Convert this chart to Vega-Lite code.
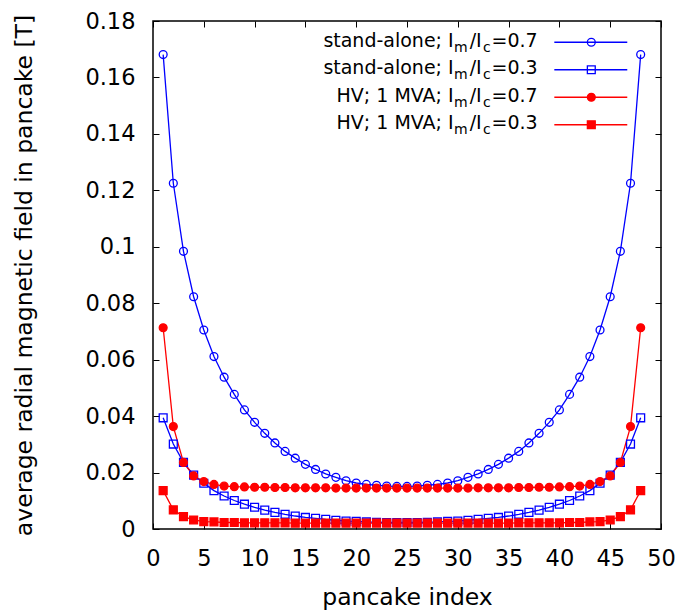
{
  "$schema": "https://vega.github.io/schema/vega-lite/v6.json",
  "width": 508,
  "height": 508,
  "autosize": {"type": "none"},
  "padding": {"left": 153, "top": 21, "right": 23, "bottom": 87},
  "background": "white",
  "config": {
    "font": "DejaVu Sans",
    "view": {"stroke": "black", "strokeWidth": 1.5},
    "axis": {
      "labelFont": "DejaVu Sans", "labelFontSize": 22.5, "labelColor": "black",
      "titleFont": "DejaVu Sans", "titleFontSize": 23.5, "titleFontWeight": "normal", "titleColor": "black",
      "tickColor": "black", "tickSize": -6, "tickWidth": 1, "domain": false, "grid": false,
      "labelFlush": false, "labelOverlap": false
    }
  },
  "datasets": {
    "curves": [
      {"i":1,"s":"A","v":0.1681},{"i":2,"s":"A","v":0.1225},{"i":3,"s":"A","v":0.0984},{"i":4,"s":"A","v":0.0823},{"i":5,"s":"A","v":0.0705},{"i":6,"s":"A","v":0.0611},{"i":7,"s":"A","v":0.0538},{"i":8,"s":"A","v":0.0477},{"i":9,"s":"A","v":0.0422},{"i":10,"s":"A","v":0.0378},{"i":11,"s":"A","v":0.0339},{"i":12,"s":"A","v":0.0305},{"i":13,"s":"A","v":0.0275},{"i":14,"s":"A","v":0.0251},{"i":15,"s":"A","v":0.0229},{"i":16,"s":"A","v":0.0211},{"i":17,"s":"A","v":0.0195},{"i":18,"s":"A","v":0.0183},{"i":19,"s":"A","v":0.0171},{"i":20,"s":"A","v":0.0163},{"i":21,"s":"A","v":0.0158},{"i":22,"s":"A","v":0.0155},{"i":23,"s":"A","v":0.0152},{"i":24,"s":"A","v":0.0151},
      {"i":25,"s":"A","v":0.0151},{"i":26,"s":"A","v":0.0152},{"i":27,"s":"A","v":0.0155},{"i":28,"s":"A","v":0.0158},{"i":29,"s":"A","v":0.0163},{"i":30,"s":"A","v":0.0171},{"i":31,"s":"A","v":0.0183},{"i":32,"s":"A","v":0.0195},{"i":33,"s":"A","v":0.0211},{"i":34,"s":"A","v":0.0229},{"i":35,"s":"A","v":0.0251},{"i":36,"s":"A","v":0.0275},{"i":37,"s":"A","v":0.0305},{"i":38,"s":"A","v":0.0339},{"i":39,"s":"A","v":0.0378},{"i":40,"s":"A","v":0.0422},{"i":41,"s":"A","v":0.0477},{"i":42,"s":"A","v":0.0538},{"i":43,"s":"A","v":0.0611},{"i":44,"s":"A","v":0.0705},{"i":45,"s":"A","v":0.0823},{"i":46,"s":"A","v":0.0984},{"i":47,"s":"A","v":0.1225},{"i":48,"s":"A","v":0.1681},
      {"i":1,"s":"B","v":0.0394},{"i":2,"s":"B","v":0.0301},{"i":3,"s":"B","v":0.0236},{"i":4,"s":"B","v":0.0191},{"i":5,"s":"B","v":0.0162},{"i":6,"s":"B","v":0.0136},{"i":7,"s":"B","v":0.0117},{"i":8,"s":"B","v":0.0101},{"i":9,"s":"B","v":0.0088},{"i":10,"s":"B","v":0.0077},{"i":11,"s":"B","v":0.0067},{"i":12,"s":"B","v":0.0059},{"i":13,"s":"B","v":0.0052},{"i":14,"s":"B","v":0.0046},{"i":15,"s":"B","v":0.0041},{"i":16,"s":"B","v":0.0038},{"i":17,"s":"B","v":0.0034},{"i":18,"s":"B","v":0.0031},{"i":19,"s":"B","v":0.0028},{"i":20,"s":"B","v":0.0027},{"i":21,"s":"B","v":0.0025},{"i":22,"s":"B","v":0.0024},{"i":23,"s":"B","v":0.0023},{"i":24,"s":"B","v":0.0023},
      {"i":25,"s":"B","v":0.0023},{"i":26,"s":"B","v":0.0023},{"i":27,"s":"B","v":0.0024},{"i":28,"s":"B","v":0.0025},{"i":29,"s":"B","v":0.0027},{"i":30,"s":"B","v":0.0028},{"i":31,"s":"B","v":0.0031},{"i":32,"s":"B","v":0.0034},{"i":33,"s":"B","v":0.0038},{"i":34,"s":"B","v":0.0041},{"i":35,"s":"B","v":0.0046},{"i":36,"s":"B","v":0.0052},{"i":37,"s":"B","v":0.0059},{"i":38,"s":"B","v":0.0067},{"i":39,"s":"B","v":0.0077},{"i":40,"s":"B","v":0.0088},{"i":41,"s":"B","v":0.0101},{"i":42,"s":"B","v":0.0117},{"i":43,"s":"B","v":0.0136},{"i":44,"s":"B","v":0.0162},{"i":45,"s":"B","v":0.0191},{"i":46,"s":"B","v":0.0236},{"i":47,"s":"B","v":0.0301},{"i":48,"s":"B","v":0.0394},
      {"i":1,"s":"C","v":0.0713},{"i":2,"s":"C","v":0.0363},{"i":3,"s":"C","v":0.0236},{"i":4,"s":"C","v":0.0188},{"i":5,"s":"C","v":0.0168},{"i":6,"s":"C","v":0.0158},{"i":7,"s":"C","v":0.0152},{"i":8,"s":"C","v":0.0150},{"i":9,"s":"C","v":0.0149},{"i":10,"s":"C","v":0.0148},{"i":11,"s":"C","v":0.0148},{"i":12,"s":"C","v":0.0147},{"i":13,"s":"C","v":0.0147},{"i":14,"s":"C","v":0.0146},{"i":15,"s":"C","v":0.0146},{"i":16,"s":"C","v":0.0146},{"i":17,"s":"C","v":0.0146},{"i":18,"s":"C","v":0.0145},{"i":19,"s":"C","v":0.0145},{"i":20,"s":"C","v":0.0145},{"i":21,"s":"C","v":0.0145},{"i":22,"s":"C","v":0.0145},{"i":23,"s":"C","v":0.0145},{"i":24,"s":"C","v":0.0145},
      {"i":25,"s":"C","v":0.0145},{"i":26,"s":"C","v":0.0145},{"i":27,"s":"C","v":0.0145},{"i":28,"s":"C","v":0.0145},{"i":29,"s":"C","v":0.0145},{"i":30,"s":"C","v":0.0145},{"i":31,"s":"C","v":0.0145},{"i":32,"s":"C","v":0.0146},{"i":33,"s":"C","v":0.0146},{"i":34,"s":"C","v":0.0146},{"i":35,"s":"C","v":0.0146},{"i":36,"s":"C","v":0.0147},{"i":37,"s":"C","v":0.0147},{"i":38,"s":"C","v":0.0148},{"i":39,"s":"C","v":0.0148},{"i":40,"s":"C","v":0.0149},{"i":41,"s":"C","v":0.0150},{"i":42,"s":"C","v":0.0152},{"i":43,"s":"C","v":0.0158},{"i":44,"s":"C","v":0.0168},{"i":45,"s":"C","v":0.0188},{"i":46,"s":"C","v":0.0236},{"i":47,"s":"C","v":0.0363},{"i":48,"s":"C","v":0.0713},
      {"i":1,"s":"D","v":0.0136},{"i":2,"s":"D","v":0.0068},{"i":3,"s":"D","v":0.0044},{"i":4,"s":"D","v":0.0032},{"i":5,"s":"D","v":0.0026},{"i":6,"s":"D","v":0.0025},{"i":7,"s":"D","v":0.0023},{"i":8,"s":"D","v":0.0023},{"i":9,"s":"D","v":0.0022},{"i":10,"s":"D","v":0.0022},{"i":11,"s":"D","v":0.0022},{"i":12,"s":"D","v":0.0022},{"i":13,"s":"D","v":0.0022},{"i":14,"s":"D","v":0.0021},{"i":15,"s":"D","v":0.0021},{"i":16,"s":"D","v":0.0021},{"i":17,"s":"D","v":0.0021},{"i":18,"s":"D","v":0.0021},{"i":19,"s":"D","v":0.0021},{"i":20,"s":"D","v":0.0021},{"i":21,"s":"D","v":0.0021},{"i":22,"s":"D","v":0.0021},{"i":23,"s":"D","v":0.0021},{"i":24,"s":"D","v":0.0021},
      {"i":25,"s":"D","v":0.0021},{"i":26,"s":"D","v":0.0021},{"i":27,"s":"D","v":0.0021},{"i":28,"s":"D","v":0.0021},{"i":29,"s":"D","v":0.0021},{"i":30,"s":"D","v":0.0021},{"i":31,"s":"D","v":0.0021},{"i":32,"s":"D","v":0.0021},{"i":33,"s":"D","v":0.0021},{"i":34,"s":"D","v":0.0021},{"i":35,"s":"D","v":0.0021},{"i":36,"s":"D","v":0.0022},{"i":37,"s":"D","v":0.0022},{"i":38,"s":"D","v":0.0022},{"i":39,"s":"D","v":0.0022},{"i":40,"s":"D","v":0.0022},{"i":41,"s":"D","v":0.0023},{"i":42,"s":"D","v":0.0023},{"i":43,"s":"D","v":0.0025},{"i":44,"s":"D","v":0.0026},{"i":45,"s":"D","v":0.0032},{"i":46,"s":"D","v":0.0044},{"i":47,"s":"D","v":0.0068},{"i":48,"s":"D","v":0.0136}
    ],
    "legend": [
      {"s":"A","pre":"stand-alone; I","val":"=0.7"},
      {"s":"B","pre":"stand-alone; I","val":"=0.3"},
      {"s":"C","pre":"HV; 1 MVA; I","val":"=0.7"},
      {"s":"D","pre":"HV; 1 MVA; I","val":"=0.3"}
    ]
  },
  "layer": [
    {
      "data": {"name": "curves"},
      "layer": [
        {
          "mark": {"type": "line", "strokeWidth": 1.3},
          "encoding": {
            "x": {"field": "i", "type": "quantitative", "scale": {"domain": [0, 50], "nice": false},
                  "axis": {"orient": "bottom", "values": [0,5,10,15,20,25,30,35,40,45,50], "format": "d", "labelPadding": 24, "title": "pancake index", "titlePadding": 16}},
            "y": {"field": "v", "type": "quantitative", "scale": {"domain": [0, 0.18], "nice": false},
                  "axis": {"orient": "left", "values": [0,0.02,0.04,0.06,0.08,0.1,0.12,0.14,0.16,0.18], "format": "~g", "labelPadding": 24, "title": "average radial magnetic field in pancake [T]", "titlePadding": 48}},
            "stroke": {"field": "s", "type": "nominal", "scale": {"domain": ["A","B","C","D"], "range": ["#0000ff","#0000ff","#ff0000","#ff0000"]}, "legend": null}
          }
        },
        {
          "mark": {"type": "point", "filled": true, "size": 62, "strokeWidth": 1.3, "opacity": 1},
          "encoding": {
            "x": {"field": "i", "type": "quantitative", "axis": {"orient": "top", "values": [0,5,10,15,20,25,30,35,40,45,50], "labels": false, "title": null}},
            "y": {"field": "v", "type": "quantitative", "axis": {"orient": "right", "values": [0,0.02,0.04,0.06,0.08,0.1,0.12,0.14,0.16,0.18], "labels": false, "title": null}},
            "stroke": {"field": "s", "type": "nominal", "scale": {"domain": ["A","B","C","D"], "range": ["#0000ff","#0000ff","#ff0000","#ff0000"]}, "legend": null},
            "fill": {"field": "s", "type": "nominal", "scale": {"domain": ["A","B","C","D"], "range": ["transparent","transparent","#ff0000","#ff0000"]}, "legend": null},
            "shape": {"field": "s", "type": "nominal", "scale": {"domain": ["A","B","C","D"], "range": ["circle","square","circle","square"]}, "legend": null}
          }
        }
      ],
      "resolve": {"axis": {"x": "independent", "y": "independent"}}
    },
    {
      "data": {"name": "legend"},
      "encoding": {
        "y": {"field": "s", "type": "nominal", "scale": {"type": "band", "domain": ["A","B","C","D","e1","e2","e3","e4","e5","e6","e7","e8","e9","e10","e11","e12","e13","e14"], "paddingInner": 0, "paddingOuter": 0.236, "align": 0}, "axis": null}
      },
      "layer": [
        {
          "mark": {"type": "rule", "strokeWidth": 1.3, "yOffset": 7.5},
          "encoding": {
            "x": {"datum": 39.5, "type": "quantitative", "axis": null},
            "x2": {"datum": 46.68},
            "stroke": {"field": "s", "type": "nominal", "legend": null}
          }
        },
        {
          "mark": {"type": "point", "filled": true, "size": 62, "strokeWidth": 1.3, "opacity": 1, "yOffset": 7.5},
          "encoding": {
            "x": {"datum": 43.14, "type": "quantitative", "axis": null},
            "stroke": {"field": "s", "type": "nominal", "legend": null},
            "fill": {"field": "s", "type": "nominal", "legend": null},
            "shape": {"field": "s", "type": "nominal", "legend": null}
          }
        },
        {
          "mark": {"type": "text", "align": "right", "baseline": "alphabetic", "dx": -84, "dy": 12, "fontSize": 19, "font": "DejaVu Sans", "color": "black"},
          "encoding": {"x": {"datum": 37.86, "type": "quantitative", "axis": null}, "text": {"field": "pre"}}
        },
        {
          "mark": {"type": "text", "text": "m", "align": "right", "baseline": "alphabetic", "dx": -70, "dy": 17, "fontSize": 14, "font": "DejaVu Sans", "color": "black"},
          "encoding": {"x": {"datum": 37.86, "type": "quantitative", "axis": null}}
        },
        {
          "mark": {"type": "text", "text": "/I", "align": "right", "baseline": "alphabetic", "dx": -56, "dy": 12, "fontSize": 19, "font": "DejaVu Sans", "color": "black"},
          "encoding": {"x": {"datum": 37.86, "type": "quantitative", "axis": null}}
        },
        {
          "mark": {"type": "text", "text": "c", "align": "right", "baseline": "alphabetic", "dx": -47, "dy": 17, "fontSize": 14, "font": "DejaVu Sans", "color": "black"},
          "encoding": {"x": {"datum": 37.86, "type": "quantitative", "axis": null}}
        },
        {
          "mark": {"type": "text", "align": "right", "baseline": "alphabetic", "dx": 0, "dy": 12, "fontSize": 19, "font": "DejaVu Sans", "color": "black"},
          "encoding": {"x": {"datum": 37.86, "type": "quantitative", "axis": null}, "text": {"field": "val"}}
        }
      ]
    }
  ],
  "resolve": {"scale": {"y": "independent"}, "axis": {"x": "independent", "y": "independent"}}
}
